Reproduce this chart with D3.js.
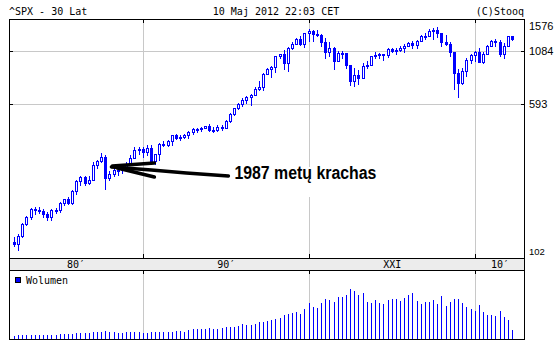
<html>
<head>
<script src="https://d3js.org/d3.v7.min.js"></script>
<style>
body { margin: 0; background: #fff; }
svg text { font-family: "DejaVu Sans Mono", monospace; font-size: 10px; fill: #000; }
</style>
</head>
<body>
<div id="chart"></div>
<script>

// quarterly candles, first one starts 1982-04-01
var firstQuarter = new Date(1982, 3, 1);

var open = [111.96,109.61,120.42,140.64,152.96,168.11,166.07,164.93,159.18,153.18,166.10,167.24,180.66,191.85,182.08,211.28,238.90,250.84,231.32,242.17,291.70,304.00,321.83,247.08,258.89,273.50,271.91,277.72,294.87,317.98,349.15,353.40,339.94,358.02,306.05,330.22,375.22,371.16,387.86,417.09,403.69,408.14,417.80,435.71,451.67,450.53,458.93,466.45,445.77,444.27,462.69,459.27,500.71,544.75,584.41,615.93,645.50,670.63,687.33,740.74,757.12,885.14,947.28,970.43,1101.75,1133.84,1017.01,1229.23,1286.37,1372.71,1282.71,1469.25,1498.58,1454.60,1436.51,1320.28,1160.33,1224.42,1040.94,1148.08,1147.39,989.82,815.28,879.82,848.18,974.50,995.97,1111.92,1126.21,1140.84,1114.58,1211.92,1180.59,1191.33,1228.81,1248.29,1294.83,1270.20,1335.85,1418.30,1420.86,1503.35,1526.75,1468.36,1322.70,1280.00,1166.36,903.25,797.87,919.32,1057.08,1115.10,1169.43,1030.71,1141.20,1257.64,1325.83,1320.64,1131.42,1257.60,1408.47];
var high = [119.3,124.0,143.0,154.0,171.0,172.6,172.6,169.5,162.0,168.0,170.4,183.9,192.0,196.0,212.0,240.0,254.0,254.0,254.0,301.0,310.0,337.9,328.0,271.0,275.0,274.0,284.0,301.0,328.0,360.0,361.0,360.6,369.8,370.0,331.0,380.0,391.0,396.0,418.0,422.0,419.0,425.0,442.0,456.0,455.0,463.5,470.0,482.9,462.0,475.0,473.0,503.0,551.0,586.0,622.0,664.0,681.0,690.0,761.0,817.0,898.0,961.0,983.0,1105.0,1138.0,1190.6,1244.0,1316.0,1376.0,1420.0,1473.0,1552.9,1527.0,1530.0,1454.0,1384.0,1316.0,1239.0,1173.0,1176.0,1147.8,994.0,954.0,935.0,1015.0,1039.6,1112.0,1163.2,1150.6,1140.8,1217.9,1229.1,1219.6,1245.9,1275.8,1310.9,1326.7,1340.3,1431.8,1461.6,1540.6,1555.9,1576.1,1471.8,1440.2,1313.2,1167.0,943.9,956.2,1080.2,1130.4,1180.7,1219.8,1157.2,1262.6,1344.1,1370.6,1356.5,1292.7,1419.2,1422.4];
var low = [107.3,102.2,119.0,138.0,150.0,158.0,160.0,153.5,147.8,147.3,160.0,163.4,177.0,180.0,179.0,203.5,228.0,228.0,230.0,241.5,278.0,300.0,216.5,242.6,253.0,256.0,263.0,275.0,291.0,315.0,333.0,321.4,329.0,294.5,294.5,309.0,365.0,367.0,372.0,400.0,394.0,406.0,402.0,425.0,433.0,438.0,457.0,438.0,435.0,442.0,444.0,459.0,493.0,536.0,576.0,597.0,624.0,605.0,683.0,733.0,733.5,891.0,855.0,912.0,1074.0,939.0,923.3,1205.0,1281.0,1268.0,1233.0,1339.0,1339.0,1420.0,1254.0,1081.0,1103.0,944.8,1040.9,1074.0,952.0,775.7,768.6,789.0,847.8,960.8,995.0,1087.0,1076.3,1060.7,1090.2,1163.7,1136.2,1183.6,1168.2,1245.7,1219.3,1224.5,1327.1,1363.9,1416.4,1370.6,1406.1,1257.0,1272.0,1106.4,741.0,666.8,783.3,869.3,1020.2,1044.5,1028.3,1010.9,1131.9,1249.1,1258.1,1101.5,1074.8,1258.7,1343.4];
var close = [109.61,120.42,140.64,152.96,168.11,166.07,164.93,159.18,153.18,166.10,167.24,180.66,191.85,182.08,211.28,238.90,250.84,231.32,242.17,291.70,304.00,321.83,247.08,258.89,273.50,271.91,277.72,294.87,317.98,349.15,353.40,339.94,358.02,306.05,330.22,375.22,371.16,387.86,417.09,403.69,408.14,417.80,435.71,451.67,450.53,458.93,466.45,445.77,444.27,462.69,459.27,500.71,544.75,584.41,615.93,645.50,670.63,687.33,740.74,757.12,885.14,947.28,970.43,1101.75,1133.84,1017.01,1229.23,1286.37,1372.71,1282.71,1469.25,1498.58,1454.60,1436.51,1320.28,1160.33,1224.42,1040.94,1148.08,1147.39,989.82,815.28,879.82,848.18,974.50,995.97,1111.92,1126.21,1140.84,1114.58,1211.92,1180.59,1191.33,1228.81,1248.29,1294.83,1270.20,1335.85,1418.30,1420.86,1503.35,1526.75,1468.36,1322.70,1280.00,1166.36,903.25,797.87,919.32,1057.08,1115.10,1169.43,1030.71,1141.20,1257.64,1325.83,1320.64,1131.42,1257.60,1408.47,1357.99];
var volume = [30,37,37,37,37,37,40,40,40,40,40,50,50,50,53,60,60,60,60,70,70,70,80,70,70,60,63,70,70,70,70,63,63,70,70,70,70,70,73,80,80,73,87,97,97,97,97,107,97,97,107,117,117,117,127,150,140,140,150,170,170,180,187,197,
  210,240,250,260,270,250,300,360,320,310,360,400,390,370,420,420,440,500,480,440,460,370,360,390,360,350,390,400,400,380,410,440,460,380,350,370,370,390,350,430,330,370,400,400,360,320,300,280,340,270,240,240,230,280,220,190,90];

var priceTicks = [1576, 1084, 593, 102];
var decadeYears = [1990, 2000, 2010];
var decadeLabels = ["80\u2032", "90\u2032", "XXI", "10\u2032"];

var width = 555, height = 362;
var plotLeft = 9, plotRight = 525, plotTop = 19, priceBottom = 258, bandBottom = 270, volBottom = 339;
var blue = "#0000ff", grid = "#c8c8c8";

var svg = d3.select("#chart").append("svg")
.attr("width", width).attr("height", height);

var rows = open.map(function (o, i) {
  return { date: d3.timeMonth.offset(firstQuarter, 3 * i), open: o, high: high[i], low: low[i], close: close[i], volume: volume[i] };
});

var x = d3.scaleTime().domain([new Date(1981, 11, 1), new Date(2013, 0, 1)]).range([plotLeft, plotRight]);
// candles sit inside a padded band of the box
var y = d3.scaleLog().domain([102, 1576]).range([250, 27.3]);
// Stooq lays the inner grid lines over the whole box
var yGrid = d3.scaleLog().domain([102, 1576]).range([priceBottom + 0.5, plotTop - 0.5]);
var yVol = d3.scaleLinear().domain([0, 690]).range([volBottom, bandBottom]);

function px(d) { return Math.floor(x(d)); }

// x-axis band
svg.append("rect").attr("x", plotLeft).attr("y", priceBottom).attr("width", plotRight - plotLeft).attr("height", bandBottom - priceBottom)
.style("fill", "#ececec");

// vertical grid
var decadeDates = decadeYears.map(function (yr) { return new Date(yr, 0, 1); });
decadeDates.forEach(function (d) {
  var gx = px(d) + 0.5;
  svg.append("line").attr("x1", gx).attr("x2", gx).attr("y1", plotTop).attr("y2", priceBottom).style("stroke", grid);
  svg.append("line").attr("x1", gx).attr("x2", gx).attr("y1", bandBottom).attr("y2", volBottom).style("stroke", grid);
  [[plotTop, plotTop + 4], [priceBottom - 4, priceBottom], [bandBottom, bandBottom + 4]].forEach(function (t) {
    svg.append("line").attr("x1", gx).attr("x2", gx).attr("y1", t[0]).attr("y2", t[1]).style("stroke", "#000");
  });
});

// horizontal grid for inner ticks
priceTicks.slice(1, 3).forEach(function (v) {
  var gy = Math.floor(yGrid(v)) + 0.5;
  svg.append("line").attr("x1", plotLeft).attr("x2", plotRight).attr("y1", gy).attr("y2", gy).style("stroke", grid);
  svg.append("line").attr("x1", plotLeft).attr("x2", plotLeft + 4).attr("y1", gy).attr("y2", gy).style("stroke", "#000");
  svg.append("line").attr("x1", plotRight - 4).attr("x2", plotRight).attr("y1", gy).attr("y2", gy).style("stroke", "#000");
});

// price labels on the right
priceTicks.forEach(function (v, i) {
  var ly = Math.max(26, Math.min(252, yGrid(v)));
  svg.append("text").attr("x", plotRight + 4).attr("y", ly).attr("dy", "0.36em")
  .style("font-family", "'Liberation Sans', Arial, sans-serif")
  .style("font-size", i == priceTicks.length - 1 ? "9.5px" : "11px")
  .text(v);
});

// decade labels centred in their spans
var bounds = [x.domain()[0]].concat(decadeDates, [x.domain()[1]]);
decadeLabels.forEach(function (lab, i) {
  svg.append("text").attr("x", (x(bounds[i]) + x(bounds[i + 1])) / 2).attr("y", 268)
  .attr("text-anchor", "middle").text(lab);
});

// candles: wick first, then body
svg.selectAll("line.wick").data(rows).join("line").attr("class", "wick")
.attr("x1", d => px(d.date) + 0.5).attr("x2", d => px(d.date) + 0.5)
.attr("y1", d => Math.round(y(d.high))).attr("y2", d => Math.round(y(d.low)) + 1)
.style("stroke", blue);

svg.selectAll("rect.up").data(rows.filter(d => d.close >= d.open)).join("rect").attr("class", "up")
.attr("x", d => px(d.date) - 0.5)
.attr("y", d => Math.round(y(d.close)) + 0.5)
.attr("width", 2)
.attr("height", d => Math.max(1, Math.round(y(d.open)) - Math.round(y(d.close))))
.style("fill", "#fff").style("stroke", blue);

svg.selectAll("rect.down").data(rows.filter(d => d.close < d.open)).join("rect").attr("class", "down")
.attr("x", d => px(d.date) - 1)
.attr("y", d => Math.round(y(d.open)))
.attr("width", 3)
.attr("height", d => Math.max(2, Math.round(y(d.close)) - Math.round(y(d.open)) + 1))
.style("fill", blue);

// volume
svg.selectAll("line.vol").data(rows).join("line").attr("class", "vol")
.attr("x1", d => px(d.date) + 0.5).attr("x2", d => px(d.date) + 0.5)
.attr("y1", volBottom).attr("y2", d => Math.round(yVol(d.volume)))
.style("stroke", blue);

svg.append("rect").attr("x", 15.5).attr("y", 277.5).attr("width", 5).attr("height", 5)
.style("fill", blue).style("stroke", "#000");
svg.append("text").attr("x", 26).attr("y", 284).text("Wolumen");

// frames
function frame(y0, y1) {
  svg.append("rect").attr("x", plotLeft + 0.5).attr("y", y0 + 0.5)
  .attr("width", plotRight - plotLeft - 1).attr("height", y1 - y0)
  .style("fill", "none").style("stroke", "#000");
}
frame(plotTop, priceBottom);
frame(priceBottom, bandBottom);
frame(bandBottom, volBottom);

// header
svg.append("text").attr("x", 9).attr("y", 15).text("^SPX - 30 Lat");
svg.append("text").attr("x", 276).attr("y", 15).attr("text-anchor", "middle").text("10 Maj 2012 22:03 CET");
svg.append("text").attr("x", 524).attr("y", 15).attr("text-anchor", "end").text("(C)Stooq");

// hand drawn note pointing at the 1987 crash
var tip = [x(new Date(1988, 1, 1)), y(283)];
var note = svg.append("g").attr("transform", "translate(" + tip[0] + "," + tip[1] + ")");
note.append("rect").attr("x", 121).attr("y", 0).attr("width", 150).attr("height", 30).style("fill", "#fff");
note.append("text").attr("x", 123).attr("y", 12)
.attr("textLength", 142).attr("lengthAdjust", "spacingAndGlyphs")
.style("font-family", "'Liberation Sans', Arial, sans-serif").style("font-size", "18px").style("font-weight", "bold")
.text("1987 metų krachas");
[[[0, 0], [40, 3], [75, 6], [117, 9]], [[1, -1], [43, -4]], [[6, 1], [43, 10]]].forEach(function (pts) {
  note.append("path").attr("d", d3.line()(pts))
  .style("fill", "none").style("stroke", "#000").style("stroke-width", 3.5).style("stroke-linecap", "round");
});

</script>
</body>
</html>
